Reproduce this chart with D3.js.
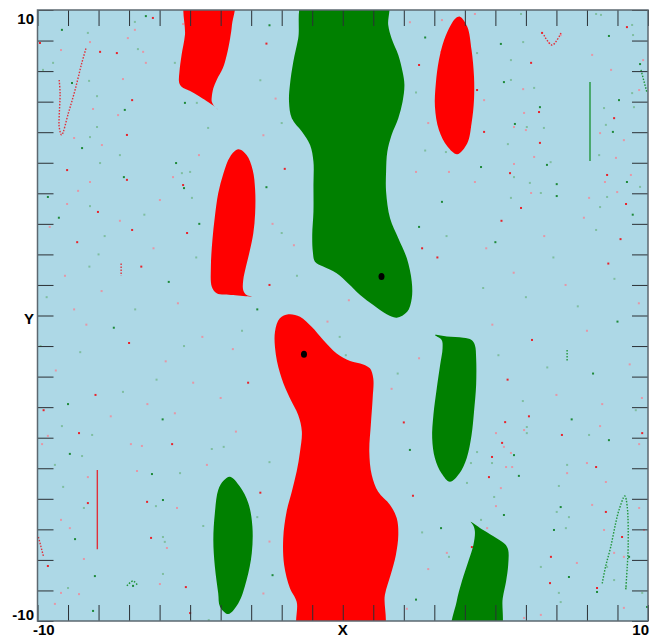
<!DOCTYPE html>
<html lang="en">
<head>
    <title>Basins</title>
    <script src="https://d3js.org/d3.v7.min.js"></script>
    <style>
        body { margin: 0; background: #fff; }
        text { font-family: "Liberation Sans", Arial, sans-serif; font-weight: bold; fill: #000; }
    </style>
</head>
<body>

<script>
    // region outlines, in data units (x, y)
    const redTopLeft = [[-5.12,10.4],[-3.58,10.4],[-3.63,9.51],[-3.69,9.07],[-3.80,8.53],[-3.93,8.09],[-4.13,7.71],[-4.24,7.44],
        [-4.29,7.16],[-4.29,7.00],[-4.19,6.83],[-4.08,6.73],[-4.24,6.87],[-4.40,6.98],[-4.68,7.16],[-5.00,7.35],
        [-5.28,7.49],[-5.36,7.63],[-5.35,7.98],[-5.28,8.53],[-5.17,9.18]];
    const greenTop = [[-1.25,10.4],[1.45,10.4],[1.49,9.51],[1.60,9.07],[1.82,8.53],[1.96,7.98],[2.02,7.55],[1.96,7.00],
        [1.82,6.46],[1.60,5.91],[1.46,5.36],[1.42,4.71],[1.42,4.05],[1.55,3.18],[1.82,2.53],[2.10,1.87],[2.26,1.11],
        [2.26,0.56],[2.11,0.12],[1.77,-0.07],[1.44,0.04],[1.00,0.34],[0.57,0.67],[0.18,1.05],[-0.20,1.38],[-0.64,1.60],
        [-0.91,1.76],[-0.98,2.09],[-1.00,2.64],[-0.96,3.40],[-0.96,4.27],[-0.96,5.03],[-1.07,5.58],[-1.34,6.02],
        [-1.67,6.46],[-1.76,7.00],[-1.73,7.55],[-1.62,8.31],[-1.46,9.07]];
    const redTopRight = [[3.84,9.78],[4.08,9.45],[4.22,8.69],[4.30,7.82],[4.30,7.06],[4.22,6.29],[4.08,5.64],[3.75,5.28],
        [3.43,5.53],[3.15,6.07],[3.02,6.83],[3.05,7.60],[3.15,8.36],[3.32,9.02],[3.54,9.51],[3.70,9.73]];
    const redMidLeft = [[-3.42,5.44],[-3.15,5.25],[-2.95,4.76],[-2.87,4.11],[-2.87,3.35],[-2.93,2.69],[-3.04,2.14],
        [-3.17,1.60],[-3.26,1.16],[-3.26,0.83],[-3.15,0.67],[-2.98,0.62],[-3.59,0.67],[-4.13,0.73],[-4.29,0.94],
        [-4.32,1.60],[-4.27,2.47],[-4.19,3.23],[-4.08,4.00],[-3.91,4.65],[-3.69,5.20]];
    const redBottom = [[-1.78,0.04],[-1.40,-0.04],[-1.02,-0.37],[-0.64,-0.80],[-0.20,-1.24],[0.24,-1.49],[0.67,-1.60],
        [0.89,-1.73],[1.00,-2.06],[0.98,-2.71],[0.92,-3.58],[0.87,-4.46],[0.95,-5.22],[1.16,-5.77],[1.55,-6.20],
        [1.77,-6.64],[1.82,-7.18],[1.74,-7.84],[1.57,-8.49],[1.38,-9.15],[1.28,-10.4],[-1.42,-10.4],[-1.51,-9.37],
        [-1.73,-8.93],[-1.92,-8.17],[-1.95,-7.29],[-1.84,-6.42],[-1.67,-5.77],[-1.51,-5.11],[-1.40,-4.46],
        [-1.34,-3.80],[-1.46,-3.26],[-1.73,-2.71],[-2.00,-2.06],[-2.19,-1.29],[-2.22,-0.53],[-2.06,-0.09]];
    const greenMidRight = [[3.02,-0.64],[3.41,-0.69],[3.95,-0.73],[4.22,-0.80],[4.33,-0.97],[4.37,-1.40],[4.37,-2.27],
        [4.30,-3.15],[4.22,-3.91],[4.06,-4.67],[3.82,-5.17],[3.51,-5.44],[3.24,-5.17],[3.02,-4.67],[2.93,-4.02],
        [2.97,-3.26],[3.08,-2.38],[3.19,-1.62],[3.27,-1.07],[3.24,-0.80]];
    const greenBottomLeft = [[-3.69,-5.28],[-3.37,-5.60],[-3.09,-6.15],[-2.96,-6.91],[-2.98,-7.78],[-3.15,-8.66],
        [-3.42,-9.42],[-3.75,-9.77],[-4.02,-9.53],[-4.08,-9.09],[-4.19,-8.22],[-4.24,-7.35],[-4.19,-6.47],
        [-4.08,-5.71],[-3.90,-5.40]];
    const greenBottomRight = [[4.19,-6.75],[4.60,-7.02],[5.04,-7.29],[5.32,-7.49],[5.42,-7.68],[5.42,-8.17],[5.35,-8.71],
        [5.24,-9.26],[5.12,-10.4],[3.60,-10.4],[3.73,-9.37],[3.90,-8.71],[4.11,-8.06],[4.28,-7.51],[4.33,-7.08],[4.28,-6.88]];

    const redRegions = [redTopLeft, redTopRight, redMidLeft, redBottom];
    const greenRegions = [greenTop, greenMidRight, greenBottomLeft, greenBottomRight];

    // attractors
    const attractors = [[1.27, 1.28], [-1.27, -1.27]];

    // thin trails
    const redTrails = [
        [[-9.29,7.71],[-9.26,7.27],[-9.29,6.51],[-9.29,6.18],[-9.21,5.91],[-8.99,6.62],[-8.77,7.38],[-8.55,8.26],[-8.41,8.75]],
        [[-8.04,-5.06],[-8.04,-7.65]],
        [[-7.26,1.70],[-7.26,1.30]],
        [[6.59,9.18],[6.86,8.85],[7.15,9.25]],
        [[-9.97,-7.25],[-9.80,-7.90]]
    ];
    const greenTrails = [
        [[8.50,-8.77],[8.61,-8.22],[8.78,-7.57],[8.94,-6.80],[9.05,-6.37],[9.24,-5.91],[9.32,-6.26],[9.35,-7.57],[9.32,-8.22],[9.27,-8.99]],
        [[8.10,7.64],[8.10,5.06]],
        [[7.35,-1.13],[7.35,-1.52]],
        [[-7.07,-8.85],[-6.87,-8.69],[-6.71,-8.85]],
        [[9.77,8.04],[9.97,7.28]]
    ];

    // scattered points
    const redDots = [[-9.92,8.92],[-9.23,8.69],[-8.28,8.95],[-7.95,8.63],[-7.04,9.08],[-6.81,9.35],[-7.40,8.59],[-6.45,8.27],
        [-7.20,7.74],[-6.90,7.05],[-8.18,6.76],[-7.36,6.56],[-7.07,5.91],[-7.89,5.58],[-8.80,5.81],[-9.03,4.76],[-8.28,4.37],
        [-8.67,4.08],[-7.07,4.44],[-5.99,3.78],[-5.56,4.53],[-5.23,4.27],[-4.71,5.25],[-9.03,3.65],[-8.02,3.39],[-6.54,8.63],
        [-5.23,9.54],[-6.22,9.74],
        [-9.66,-3.94],[-9.85,-4.21],[-8.64,-3.85],[-6.94,-4.21],[-6.58,-4.27],[-5.59,-4.21],[-6.74,-5.09],[-8.35,-5.29],
        [-8.35,-6.14],[-9.23,-6.69],[-8.94,-6.96],[-6.28,-7.28],[-5.76,-7.61],[-8.48,-7.97],[-9.66,-8.20],[-8.64,-9.12],
        [-5.99,-8.79],[-5.14,-8.89],[-9.23,-9.08],[-9.43,-9.44],[-5.00,-9.74],[-5.43,-6.30],[-4.45,-4.89],[-6.41,-6.10],
        [4.33,9.87],[3.25,9.67],[6.53,9.25],[7.14,9.18],[6.76,8.92],[6.17,8.27],[5.91,7.41],[5.94,6.63],[6.43,6.66],
        [5.61,6.17],[6.00,6.07],[6.46,5.65],[6.27,5.19],[5.61,4.96],[5.48,4.66],[4.33,4.37],[6.17,4.01],[5.84,3.52],
        [8.17,8.53],[8.79,8.04],[9.31,9.44],[9.84,8.36],[9.71,7.38],[8.89,6.46],[9.21,5.74],[8.95,5.16],[8.66,4.60],
        [9.44,4.60],[8.99,4.04],[9.28,3.65],[8.07,3.85],[4.63,7.05],[4.63,6.01],[3.48,4.70],[3.22,8.63],[4.40,7.38],
        [8.43,5.97],[8.59,4.37],
        [5.32,-3.49],[5.02,-3.85],[5.94,-3.75],[5.22,-4.17],[5.28,-4.30],[5.51,-4.50],[4.89,-4.63],[5.35,-4.96],
        [5.55,-4.96],[4.79,-5.29],[5.18,-5.65],[5.02,-6.24],[7.18,-3.91],[8.00,-4.83],[8.43,-3.62],[8.30,-4.96],
        [8.62,-5.45],[8.17,-6.20],[8.62,-6.43],[8.56,-7.02],[9.71,-4.21],[9.81,-3.85],[9.71,-6.30],[9.87,-7.02],
        [9.15,-7.25],[9.21,-7.90],[8.89,-7.77],[6.79,-8.76],[6.49,-9.80],[5.94,-9.90],[8.33,-8.92],[9.21,-9.57],
        [3.41,-7.77],[4.23,-7.58],[4.73,-6.96],[7.35,-5.16],[6.82,-7.90],[7.67,-8.10],
        [-9.6,2.9],[-8.7,2.4],[-7.3,3.1],[-6.2,2.2],[-5.1,2.7],[-9.1,1.3],[-7.9,0.8],[-6.6,1.6],[-5.4,0.4],[-8.4,-0.3],
        [-7.0,-0.9],[-5.8,-1.5],[-9.4,-1.8],[-8.1,-2.6],[-6.4,-2.9],[-4.9,-2.2],[-9.8,-3.1],[-7.6,-3.3],[-4.6,-0.7],
        [-6.9,2.8],[-5.5,-3.2],[-8.8,0.2],
        [5.2,3.1],[6.6,2.6],[7.9,3.2],[9.1,2.5],[5.6,1.4],[7.3,1.0],[8.7,1.7],[9.7,0.4],[4.9,-0.3],[6.2,-0.8],[8.0,-0.5],
        [9.4,-1.6],[5.4,-2.1],[7.0,-2.6],[8.5,-2.9],[6.1,-3.3],[9.8,-2.7],[4.7,2.2],
        [-2.5,8.9],[-2.2,7.1],[-2.6,5.9],[-1.9,4.8],[-2.3,3.0],[-1.6,2.3],[-2.4,1.0],[0.2,0.5],[-0.5,-0.2],[2.6,2.2],
        [2.4,4.7],[2.8,6.3],[2.5,8.2],[2.2,9.6],[-0.9,-3.3],[2.0,-3.5],[2.5,-1.4],[1.6,-2.4],[2.3,-5.9],[2.8,-8.3],
        [2.1,-9.6],[-2.7,-5.8],[-2.4,-7.4],[-2.6,-9.1],[-3.1,-2.2],[-3.6,-1.1],[-3.5,-3.8],[3.1,1.9],[-4.0,-2.7],[0.4,1.9]];
    const greenDots = [[-9.20,9.35],[-8.35,9.25],[-6.81,9.61],[-6.45,9.80],[-9.49,8.27],[-9.82,8.04],[-8.87,7.61],[-8.31,7.68],
        [-8.05,7.18],[-7.14,6.73],[-8.05,6.17],[-8.28,5.84],[-8.54,5.48],[-7.30,5.25],[-7.95,4.99],[-5.46,4.99],[-5.27,4.66],
        [-5.00,4.70],[-5.20,4.17],[-4.94,3.85],[-8.28,3.58],[-9.66,3.88],[-6.71,8.72],[-5.50,8.27],[-5.17,6.96],[-4.78,6.96],
        [-4.41,6.14],[-7.17,4.53],
        [-9.20,-3.62],[-8.21,-3.91],[-8.94,-4.53],[-8.54,-4.60],[-9.43,-4.89],[-6.25,-5.19],[-5.33,-5.16],[-9.16,-5.61],
        [-5.89,-6.04],[-6.12,-6.24],[-8.48,-6.30],[-8.77,-7.32],[-5.89,-7.25],[-5.83,-7.41],[-8.12,-8.53],[-5.89,-8.46],
        [-9.00,-8.92],[-6.87,-8.85],[-4.29,-4.37],[-4.57,-6.89],[-8.18,-9.67],[-4.39,-9.97],
        [5.84,9.87],[5.18,8.89],[5.91,8.95],[5.51,8.36],[5.28,7.64],[5.51,7.71],[6.27,7.45],[6.46,6.82],[6.03,6.17],
        [6.59,6.14],[5.64,6.27],[5.41,5.61],[6.81,5.02],[6.69,4.93],[5.61,4.53],[6.13,4.34],[7.01,4.30],[5.51,3.85],
        [6.49,4.01],[7.01,3.91],[8.30,9.87],[8.46,9.84],[8.72,9.15],[9.48,9.51],[9.51,9.18],[9.74,8.23],[9.48,7.28],
        [9.54,6.82],[9.05,7.05],[8.56,6.79],[8.62,6.24],[8.85,6.01],[8.40,5.25],[9.74,4.21],[9.31,4.37],[8.66,3.88],
        [8.43,3.55],[4.53,4.86],[4.40,8.59],[3.38,5.35],[3.25,3.72],
        [6.03,-3.65],[6.03,-3.85],[5.61,-4.57],[4.40,-4.47],[4.89,-4.83],[5.77,-5.25],[4.07,-5.48],[4.96,-5.94],
        [5.28,-6.53],[4.53,-6.69],[8.07,-3.91],[8.72,-4.08],[7.35,-4.89],[7.08,-5.58],[7.14,-6.27],[7.01,-6.43],
        [7.41,-6.60],[6.92,-7.02],[7.31,-6.96],[6.49,-8.23],[7.41,-8.56],[7.08,-9.08],[7.14,-9.38],[8.33,-9.05],
        [8.66,-8.23],[8.89,-8.66],[9.38,-7.90],[9.28,-8.89],[9.81,-9.08],[9.97,-9.54],[5.18,-9.54],[3.91,-9.57],
        [3.22,-6.96],[3.48,-7.90],[4.20,-4.83],
        [-9.3,3.2],[-8.0,2.0],[-6.8,0.2],[-5.7,1.1],[-4.8,1.9],[-9.7,0.6],[-7.5,-0.4],[-6.1,-2.1],[-8.6,-1.2],[-9.0,-2.9],
        [-7.2,-2.5],[-5.2,-1.0],[-4.7,3.0],[-6.5,3.3],[-8.3,1.6],[-5.9,-3.4],[-9.9,-1.0],[-7.8,2.6],
        [5.0,2.4],[6.9,1.9],[8.3,2.8],[9.5,3.3],[6.0,0.6],[7.7,0.3],[9.0,-0.2],[5.1,-1.3],[6.7,-1.7],[8.2,-1.9],
        [9.6,-3.1],[5.9,-2.8],[7.5,-3.4],[4.6,0.9],[8.9,1.2],
        [-2.4,9.5],[-2.7,7.7],[-2.0,6.3],[-2.5,4.2],[-2.0,2.7],[-1.5,1.3],[-2.8,0.2],[0.8,0.9],[-0.1,-0.7],[2.5,2.9],
        [2.7,5.4],[2.4,7.3],[2.7,9.1],[-1.1,-2.2],[-0.8,-4.7],[2.2,-4.4],[1.8,-1.9],[2.6,-7.1],[2.4,-9.3],[-2.4,-4.8],
        [-2.8,-6.6],[-2.3,-8.5],[-3.3,-0.5],[3.4,2.6],[3.6,-2.2],[-3.9,-4.3],[0.1,-1.3],[1.9,0.7]];

    const tickValues = d3.range(-10, 11, 1);

    const W = 654, H = 637;
    const x = d3.scaleLinear().domain([-10, 10]).range([37.5, 648]);
    const y = d3.scaleLinear().domain([-10, 10]).range([621, 10]);

    const svg = d3.select("body").append("svg").attr("width", W).attr("height", H);

    svg.append("clipPath").attr("id", "plot")
        .append("rect").attr("x", x(-10)).attr("y", y(10))
        .attr("width", x(10) - x(-10)).attr("height", y(-10) - y(10));

    svg.append("rect").attr("x", x(-10)).attr("y", y(10))
        .attr("width", x(10) - x(-10)).attr("height", y(-10) - y(10))
        .attr("fill", "#add8e6");

    const g = svg.append("g").attr("clip-path", "url(#plot)");

    // noise points
    g.append("g").selectAll("rect").data(redDots).enter().append("rect")
        .attr("x", d => x(d[0]) - 1).attr("y", d => y(d[1]) - 1)
        .attr("width", 2).attr("height", 2)
        .attr("fill", (d, i) => i % 3 === 0 ? "#e8242c" : "#e597a6");
    g.append("g").selectAll("rect").data(greenDots).enter().append("rect")
        .attr("x", d => x(d[0]) - 1).attr("y", d => y(d[1]) - 1)
        .attr("width", 2).attr("height", 2)
        .attr("fill", (d, i) => i % 3 === 0 ? "#1f8a3a" : "#7fbea0");

    const trail = d3.line().x(d => x(d[0])).y(d => y(d[1])).curve(d3.curveCatmullRom.alpha(0.5));
    g.append("g").selectAll("path").data(redTrails).enter().append("path")
        .attr("d", trail).attr("fill", "none").attr("stroke", "#e0303a")
        .attr("stroke-width", 1.4)
        .attr("stroke-dasharray", (d, i) => i === 1 ? null : "1.5 1.5");
    g.append("g").selectAll("path").data(greenTrails).enter().append("path")
        .attr("d", trail).attr("fill", "none").attr("stroke", "#22953a")
        .attr("stroke-width", 1.4)
        .attr("stroke-dasharray", (d, i) => i === 1 ? null : "1.5 1.5");

    // basins
    const blob = d3.line().x(d => x(d[0])).y(d => y(d[1])).curve(d3.curveCatmullRomClosed.alpha(0.5));
    g.append("g").selectAll("path").data(redRegions).enter().append("path")
        .attr("d", blob).attr("fill", "#ff0000");
    g.append("g").selectAll("path").data(greenRegions).enter().append("path")
        .attr("d", blob).attr("fill", "#008000");

    g.append("g").selectAll("ellipse").data(attractors).enter().append("ellipse")
        .attr("cx", d => x(d[0])).attr("cy", d => y(d[1]))
        .attr("rx", 3).attr("ry", 3.5).attr("fill", "#000");

    // ticks on all four sides, pointing inward
    const tick = 16;
    const axes = [
        [d3.axisTop(x), `translate(0,${y(10)})`],
        [d3.axisBottom(x), `translate(0,${y(-10)})`],
        [d3.axisLeft(y), `translate(${x(-10)},0)`],
        [d3.axisRight(y), `translate(${x(10)},0)`]
    ];
    axes.forEach(([ax, tr]) => {
        const a = svg.append("g").attr("transform", tr)
            .style("color", "#2b3035")
            .call(ax.tickValues(tickValues).tickSize(-tick).tickFormat(""));
        a.select(".domain").remove();
    });

    svg.append("rect").attr("x", x(-10)).attr("y", y(10))
        .attr("width", x(10) - x(-10)).attr("height", y(-10) - y(10))
        .attr("fill", "none").attr("stroke", "#5c6870").attr("stroke-width", 1.5);

    // labels
    svg.append("text").attr("x", 34).attr("y", y(10) + 14).attr("text-anchor", "end")
        .style("font-size", "15px").text("10");
    svg.append("text").attr("x", 34).attr("y", y(0) + 8).attr("text-anchor", "end")
        .style("font-size", "15px").text("Y");
    svg.append("text").attr("x", 34).attr("y", y(-10) - 1).attr("text-anchor", "end")
        .style("font-size", "15px").text("-10");
    svg.append("text").attr("x", 33).attr("y", 635).attr("text-anchor", "start")
        .style("font-size", "15px").text("-10");
    svg.append("text").attr("x", x(0)).attr("y", 635).attr("text-anchor", "middle")
        .style("font-size", "15px").text("X");
    svg.append("text").attr("x", 649).attr("y", 635).attr("text-anchor", "end")
        .style("font-size", "15px").text("10");
</script>

</body>
</html>
